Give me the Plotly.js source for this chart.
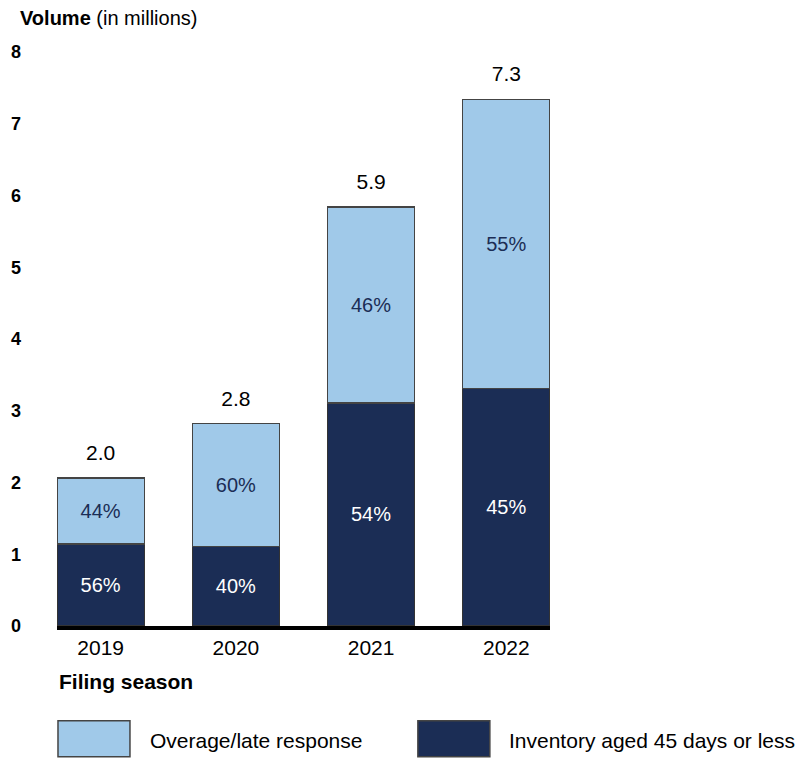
<!DOCTYPE html>
<html>
<head>
<meta charset="utf-8">
<script src="https://cdn.plot.ly/plotly-3.0.1.min.js"></script>
<style>html,body{margin:0;padding:0;background:#fff;}#chart{width:800px;height:760px;}</style>
</head>
<body>
<div id="chart"></div>
<script>
const categories = ['2019', '2020', '2021', '2022'];
const inventory45 = [1.14, 1.11, 3.11, 3.31];
const overageLate = [0.92, 1.71, 2.73, 4.03];
const inventoryPct = ['56%', '40%', '54%', '45%'];
const overagePct = ['44%', '60%', '46%', '55%'];
const totalLabels = ['2.0', '2.8', '5.9', '7.3'];
const seriesNames = ['Overage/late response', 'Inventory aged 45 days or less'];

const LIGHT = '#a0c9e9';
const DARK = '#1b2d55';
const FONT = 'Liberation Sans, Arial, sans-serif';
const FS = 21;

const totals = categories.map((c, i) => inventory45[i] + overageLate[i]);

const traces = [
  {
    type: 'bar', x: categories, y: inventory45, name: seriesNames[1],
    marker: {color: DARK, line: {color: '#333', width: 1.5}},
    text: inventoryPct, textposition: 'inside', insidetextanchor: 'middle',
    textfont: {color: '#ffffff', size: 20, family: FONT},
    width: 0.645, showlegend: false, hoverinfo: 'skip'
  },
  {
    type: 'bar', x: categories, y: overageLate, name: seriesNames[0],
    marker: {color: LIGHT, line: {color: '#444', width: 1.5}},
    text: overagePct, textposition: 'inside', insidetextanchor: 'middle',
    textfont: {color: DARK, size: 20, family: FONT},
    width: 0.645, showlegend: false, hoverinfo: 'skip'
  },
  {
    type: 'scatter', mode: 'markers+text', x: categories, y: totals,
    marker: {size: 19, color: 'rgba(0,0,0,0)'},
    text: totalLabels, textposition: 'top center',
    textfont: {color: '#000', size: FS, family: FONT},
    cliponaxis: false, showlegend: false, hoverinfo: 'skip'
  }
];

const annotations = [
  {
    xref: 'paper', yref: 'paper', x: 0, y: -0.097, xanchor: 'left', yanchor: 'middle',
    text: '<b>Filing season</b>', showarrow: false,
    font: {size: FS, color: '#000', family: FONT}
  },
  {
    xref: 'paper', yref: 'paper', x: 0.185, y: -0.2, xanchor: 'left', yanchor: 'middle',
    text: seriesNames[0], showarrow: false, font: {size: FS, color: '#000', family: FONT}
  },
  {
    xref: 'paper', yref: 'paper', x: 0.913, y: -0.2, xanchor: 'left', yanchor: 'middle',
    text: seriesNames[1], showarrow: false, font: {size: FS, color: '#000', family: FONT}
  }
];

const shapes = [
  {type: 'rect', xref: 'paper', yref: 'paper', x0: 0.002, x1: 0.148, y0: -0.228, y1: -0.165,
   fillcolor: LIGHT, line: {color: '#444', width: 1.5}},
  {type: 'rect', xref: 'paper', yref: 'paper', x0: 0.732, x1: 0.878, y0: -0.228, y1: -0.165,
   fillcolor: DARK, line: {color: '#444', width: 1.5}}
];

const layout = {
  width: 800, height: 760,
  margin: {l: 57, r: 250, t: 52, b: 134},
  paper_bgcolor: '#fff', plot_bgcolor: '#fff',
  barmode: 'stack',
  font: {family: FONT, color: '#000'},
  title: {
    text: '<b>Volume</b> (in millions)',
    xref: 'container', yref: 'container', x: 0.025, xanchor: 'left', y: 0.976, yanchor: 'middle',
    font: {size: 20, color: '#000', family: FONT}
  },
  xaxis: {
    type: 'category', range: [-0.323, 3.323],
    showline: true, linecolor: '#000', linewidth: 4,
    showgrid: false, ticks: '', zeroline: false,
    tickfont: {size: FS, color: '#000', family: FONT}
  },
  yaxis: {
    range: [0, 8], dtick: 1, tick0: 0,
    showgrid: false, zeroline: false, showline: false, ticks: '',
    ticklabelstandoff: 35,
    tickfont: {size: 18, color: '#000', family: FONT, weight: 'bold'}
  },
  annotations: annotations,
  shapes: shapes,
  showlegend: false
};

Plotly.newPlot('chart', traces, layout, {displayModeBar: false, staticPlot: true});
</script>
</body>
</html>
